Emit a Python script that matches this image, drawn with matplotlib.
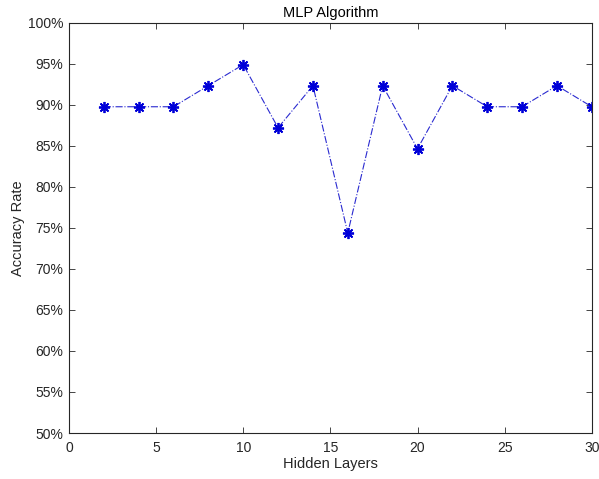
import numpy as np
import matplotlib.pyplot as plt
from matplotlib.ticker import FuncFormatter

plt.rcParams['font.family'] = ['Liberation Sans', 'DejaVu Sans']

hidden_layers = [2, 4, 6, 8, 10, 12, 14, 16, 18, 20, 22, 24, 26, 28, 30]
accuracy = [89.74, 89.74, 89.74, 92.31, 94.87, 87.18, 92.31, 74.36,
            92.31, 84.62, 92.31, 89.74, 89.74, 92.31, 89.74]

fig = plt.figure(figsize=(5.99, 4.79), dpi=100)
ax = fig.add_axes([0.115, 0.096, 0.873, 0.857])

# matlab style '*' marker with a dash-dot line
ax.plot(hidden_layers, accuracy, color='#2a2ad0', linestyle='-.', linewidth=0.8,
        marker=(8, 2, 0), markersize=8, markeredgewidth=1.3,
        markeredgecolor='#0000d8', markerfacecolor='#0000d8')

ax.set_xlim(0, 30)
ax.set_ylim(50, 100)
ax.set_xticks(np.arange(0, 31, 5))
ax.set_yticks(np.arange(50, 101, 5))
ax.yaxis.set_major_formatter(FuncFormatter(lambda v, p: f"{int(v)}%"))

axis_col = '#262626'
for s in ax.spines.values():
    s.set_color(axis_col)
    s.set_linewidth(0.8)
ax.tick_params(direction='in', top=True, right=True, length=4, width=0.6,
               colors=axis_col, labelsize=10, pad=4)
ax.tick_params(axis='x', pad=6)

ax.set_xlabel('Hidden Layers', fontsize=10.5, color=axis_col, labelpad=1)
ax.set_ylabel('Accuracy Rate', fontsize=10.5, color=axis_col, labelpad=2)
ax.set_title('MLP Algorithm', fontsize=10.5, color='black', pad=4)

fig.savefig('out.png', dpi=100)
